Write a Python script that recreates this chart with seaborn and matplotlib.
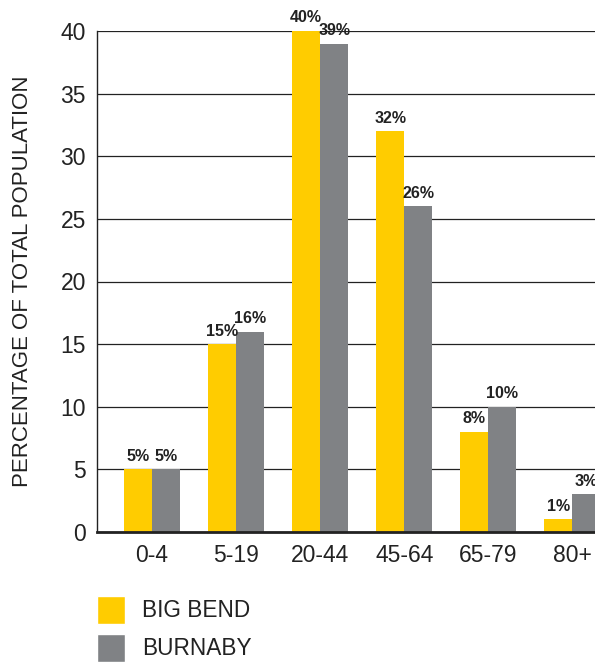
import pandas as pd
import seaborn as sns
import matplotlib.pyplot as plt
from matplotlib.patches import Patch

# age groups and share of total population (%)
age_groups = ['0-4', '5-19', '20-44', '45-64', '65-79', '80+']
big_bend = [5, 15, 40, 32, 8, 1]
burnaby = [5, 16, 39, 26, 10, 3]
series = ['BIG BEND', 'BURNABY']

colors = {'BIG BEND': '#FFCC00', 'BURNABY': '#808285'}

df = pd.DataFrame({
    'Age': age_groups * 2,
    'Value': big_bend + burnaby,
    'Area': ['BIG BEND'] * len(age_groups) + ['BURNABY'] * len(age_groups),
})

sns.set_style('white')
plt.rcParams['font.family'] = ['Liberation Sans', 'DejaVu Sans']

fig = plt.figure(figsize=(5.95, 6.62), dpi=100)
ax = fig.add_axes([97 / 595, 1 - 532 / 662, 1 - 97 / 595, (532 - 31) / 662])

sns.barplot(data=df, x='Age', y='Value', hue='Area', palette=colors,
            saturation=1.0, width=0.667, linewidth=0, ax=ax, legend=False)

ax.set_xlim(-0.655, 5.27)
ax.set_ylim(0, 40)
ax.set_yticks(range(0, 41, 5))
ax.yaxis.grid(True, color='#222222', linewidth=0.9)
ax.set_axisbelow(True)
for s in ['top', 'right']:
    ax.spines[s].set_visible(False)
ax.spines['left'].set_color('#222222')
ax.spines['left'].set_linewidth(1.0)
ax.spines['bottom'].set_color('#222222')
ax.spines['bottom'].set_linewidth(2.0)
ax.tick_params(axis='both', labelsize=16.5, length=0, colors='#222222', pad=8)
ax.tick_params(axis='x', pad=9)
ax.set_xlabel('')
ax.set_ylabel('PERCENTAGE OF TOTAL POPULATION', fontsize=16, color='#222222', labelpad=20)

for cont in ax.containers:
    ax.bar_label(cont, labels=[f'{v:.0f}%' for v in cont.datavalues],
                 fontsize=11.5, fontweight='bold', color='#222222', padding=4)

handles = [Patch(facecolor=colors[s], label=s) for s in series]
fig.legend(handles=handles, loc='upper left', bbox_to_anchor=(97 / 595, 1 - 596 / 662),
           frameon=False, fontsize=16.3, handlelength=1.24, handleheight=1.53,
           handletextpad=0.75, labelspacing=0.42, borderpad=0, borderaxespad=0,
           labelcolor='#222222')

fig.savefig('out.png', dpi=100)
